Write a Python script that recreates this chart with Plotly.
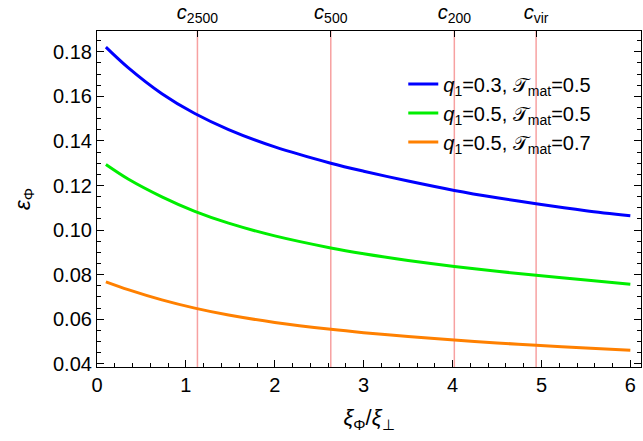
import plotly.graph_objects as go

# ---- data ----
x_vals = [0.1, 0.35, 0.73, 1.1, 1.48, 2.0, 2.63, 3.0, 3.5, 4.02, 4.5, 4.94, 5.5, 6.0]
eps_q03_T05 = [0.1821, 0.1729, 0.1612, 0.1523, 0.1451, 0.1373, 0.1300, 0.1264, 0.1220, 0.1178, 0.1145, 0.1118, 0.1087, 0.1064]
eps_q05_T05 = [0.1294, 0.1229, 0.1149, 0.1084, 0.1031, 0.0974, 0.0920, 0.0894, 0.0864, 0.0837, 0.0815, 0.0798, 0.0776, 0.0757]
eps_q05_T07 = [0.0768, 0.0733, 0.0687, 0.0650, 0.0619, 0.0586, 0.0555, 0.0540, 0.0523, 0.0507, 0.0494, 0.0483, 0.0471, 0.0461]

series_names = [
    "<i>q</i><sub>1</sub>=0.3, 𝒯<sub>mat</sub>=0.5",
    "<i>q</i><sub>1</sub>=0.5, 𝒯<sub>mat</sub>=0.5",
    "<i>q</i><sub>1</sub>=0.5, 𝒯<sub>mat</sub>=0.7",
]
series_colors = ["#0000ff", "#00ee00", "#ff8000"]

c_positions = [1.13, 2.63, 4.02, 4.94]
c_labels = ["<i>c</i><sub>2500</sub>", "<i>c</i><sub>500</sub>", "<i>c</i><sub>200</sub>", "<i>c</i><sub>vir</sub>"]

x_range = [0, 6.12]
y_range = [0.0386, 0.1893]

FONT = "Liberation Sans, Arial, sans-serif"

fig = go.Figure()
for i, (ys, name, col) in enumerate(zip([eps_q03_T05, eps_q05_T05, eps_q05_T07], series_names, series_colors)):
    fig.add_trace(go.Scatter(x=x_vals, y=ys, mode="lines", name=name, legendgroup="g%d" % i,
                             line=dict(color=col, width=3, shape="spline", smoothing=0.9)))

# dummy trace to anchor top axis
fig.add_trace(go.Scatter(x=c_positions, y=[None] * len(c_positions), xaxis="x2",
                         mode="markers", showlegend=False, hoverinfo="skip"))

for cp in c_positions:
    fig.add_shape(type="line", xref="x", yref="paper", x0=cp, x1=cp, y0=0, y1=1,
                  line=dict(color="#f7a1a1", width=1.5), layer="below")

fig.update_layout(
    width=643, height=441,
    margin=dict(l=97, r=2, t=31, b=74),
    paper_bgcolor="white", plot_bgcolor="white",
    font=dict(family=FONT, size=20, color="black"),
    showlegend=True,
    legend=dict(x=0.563, y=0.90, xanchor="left", yanchor="top",
                bgcolor="rgba(0,0,0,0)", font=dict(size=20, family=FONT),
                tracegroupgap=0, itemwidth=30),
    xaxis=dict(range=x_range, showgrid=False, zeroline=False,
               showline=True, linecolor="black", linewidth=1.2, mirror=True,
               ticks="inside", ticklen=7, tickcolor="black", tickwidth=1,
               tickvals=[0, 1, 2, 3, 4, 5, 6],
               minor=dict(ticks="inside", ticklen=4, dtick=0.2, tickcolor="black"),
               title=dict(text="<i>ξ</i><sub>Φ</sub>/<i>ξ</i><sub>⊥</sub>", font=dict(size=22), standoff=14),
               tickfont=dict(size=20)),
    xaxis2=dict(range=x_range, overlaying="x", side="top", showgrid=False, zeroline=False,
                showline=False, ticks="inside", ticklen=6, tickcolor="black",
                ticklabelstandoff=7,
                tickvals=c_positions, ticktext=c_labels, tickfont=dict(size=20)),
    yaxis=dict(range=y_range, showgrid=False, zeroline=False,
               showline=True, linecolor="black", linewidth=1.2, mirror="ticks",
               ticks="inside", ticklen=7, tickcolor="black", tickwidth=1,
               tickvals=[0.04, 0.06, 0.08, 0.10, 0.12, 0.14, 0.16, 0.18],
               ticktext=["0.04", "0.06", "0.08", "0.10", "0.12", "0.14", "0.16", "0.18"],
               minor=dict(ticks="inside", ticklen=4, dtick=0.005, tickcolor="black"),
               title=dict(text="<i>ε</i><sub>Φ</sub>", font=dict(size=22), standoff=16),
               tickfont=dict(size=20)),
)

fig.write_html("out.html")
